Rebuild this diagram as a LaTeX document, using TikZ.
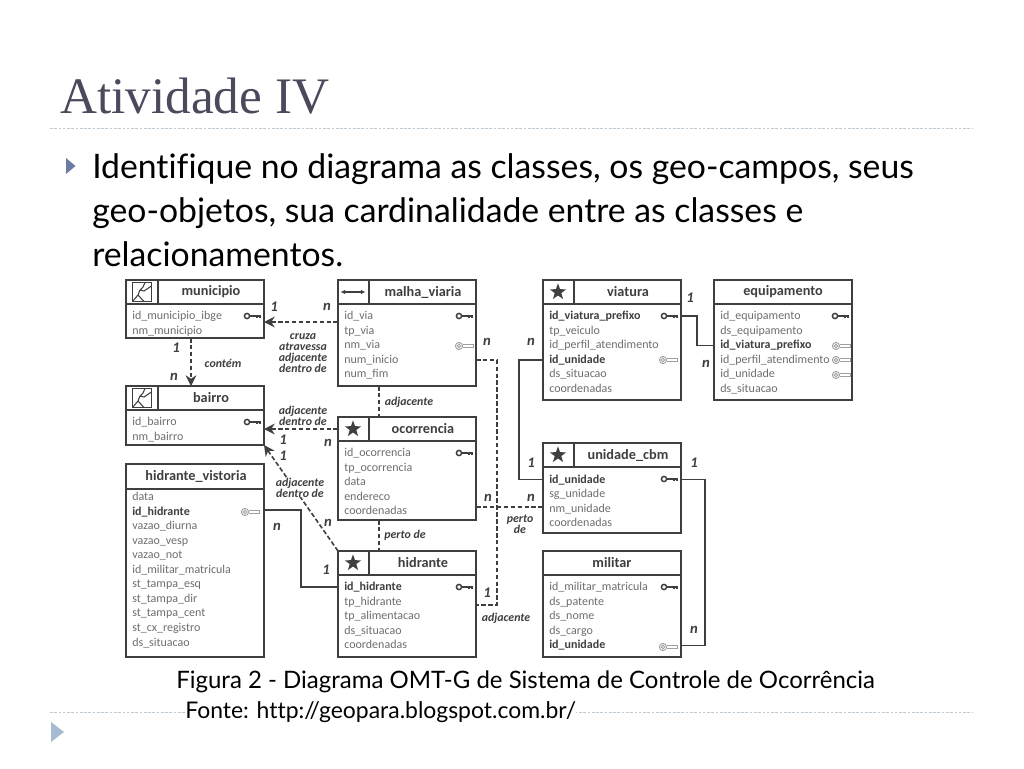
\documentclass[tikz,border=0pt]{standalone}
\usepackage{fontspec}
\setmainfont[Ligatures=NoCommon]{Lato}
\newfontfamily\diagfont{Carlito}
\newfontfamily\headfont{Liberation Serif}
\usetikzlibrary{arrows.meta,fit,shapes.geometric}
\definecolor{omtInk}{HTML}{3F3F3F}
\definecolor{omtRow}{HTML}{6E6E6E}
\definecolor{omtKey}{HTML}{A0A0A0}
\definecolor{slTitle}{HTML}{4A4A5C}
\definecolor{slRule}{HTML}{BCC8D2}
\definecolor{slMark}{HTML}{6C7BA6}
\definecolor{slMarkB}{HTML}{A6BBD2}
\tikzset{
  cbox/.style    ={draw=omtInk,line width=1.2pt,inner sep=0pt,outer sep=0pt,fill=white},
  cline/.style   ={draw=omtInk,line width=1.2pt},
  ctitle/.style  ={font=\diagfont\fontsize{10.7}{12}\selectfont\bfseries,text=omtInk,inner sep=0pt},
  attr/.style    ={font=\diagfont\fontsize{9}{10}\selectfont,text=omtRow,inner sep=0pt},
  attrb/.style   ={font=\diagfont\fontsize{9}{10}\selectfont\bfseries,text=omtInk,inner sep=0pt},
  rel/.style     ={omtInk,line width=1.2pt},
  reldash/.style ={rel,dash pattern=on 3.4pt off 1.8pt},
  reltip/.style  ={reldash,-{Stealth[length=8pt,width=8pt]}},
  lbl/.style     ={font=\diagfont\fontsize{8.9}{8.3}\selectfont\bfseries\itshape,text=omtInk,
                   align=center,inner sep=0pt},
  card/.style    ={font=\diagfont\fontsize{11}{12}\selectfont\bfseries\itshape,text=omtInk,inner sep=0pt},
  starbox/.style ={star,star points=5,star point ratio=2.5,fill=omtInk,inner sep=0pt,minimum size=13pt},
  slrule/.style  ={slRule,line width=0.7pt,dash pattern=on 2pt off 1.2pt},
  bodytxt/.style ={font=\fontsize{25.3}{28}\selectfont,text=black,anchor=base west,inner sep=0pt},
  captxt/.style  ={text=black,anchor=base west,inner sep=0pt},
  pkey/.pic      ={\draw[omtInk,line width=1.1pt] (-6,0) circle (2.6);
                   \draw[omtInk,line width=1.5pt] (-3.4,0) -- (8,0);
                   \draw[omtInk,line width=1pt] (4,0) -- (4,2.2) (7,0) -- (7,2.2);},
  fkey/.pic      ={\draw[omtKey,line width=0.7pt] (-6,0) circle (3.6) (-6,0) circle (1.8);
                   \draw[omtKey,line width=0.7pt] (-2.4,-1.4) -- (8,-1.4) -- (8,1.6) -- (-2.4,1.6);},
  geoarea/.pic   ={\draw[omtInk,line width=0.8pt] (-9.5,-9.5) rectangle (9.5,9.5);
                   \draw[omtInk,line width=0.8pt] (3,-9.5) -- (1,-5) -- (-2,-2) -- (-4,3) -- (-9.5,9.5)
                     (-4,3) -- (2,9.5) (-2,-2) -- (2,-1) -- (9.5,-6);},
  geoline/.pic   ={\draw[{Latex[length=3.5pt,width=3.5pt]}-{Latex[length=3.5pt,width=3.5pt]},omtInk,
                     line width=0.8pt] (-12.5,0) -- (12.5,0);},
}
\newcommand{\classbox}[8]{%
  \node[cbox,fit={(#2,#3) (#4,#5)}] (#1) {};
  \draw[cline] (#1.west |- 0,#6) -- (#1.east |- 0,#6);
  \node[ctitle] (#1T) at (#7,{(#3+#6)/2}) {#8};
}
\newcommand{\classrows}[4]{%
  \foreach \t/\s [count=\i] in {#4}
    { \node[\s,anchor=base west] (#1\i) at (#2,{#3+3.5+(\i-1)*14.55}) {\t}; }
}
\begin{document}
\begin{tikzpicture}[x=0.75pt,y=-0.75pt]
\useasboundingbox (0,0) rectangle (1024,768);
\fill[white] (0,0) rectangle (1024,768);

% slide frame
\node[font=\headfont\fontsize{38.4}{40}\selectfont,text=slTitle,anchor=base west,inner sep=0pt] (slidehead) at (60,113) {Atividade IV};
\draw[slrule] (50,128) -- (972,128);
\draw[slrule] (50,712) -- (972,712);
\fill[slMark] (66,158) -- (75.5,166) -- (66,174) -- cycle;
\fill[slMarkB] (51,722) -- (64,732) -- (51,742) -- cycle;
\foreach \y/\n/\t in {178/bodyA/{Identifique no diagrama as classes, os geo-campos, seus},
                      222/bodyB/{geo-objetos, sua cardinalidade entre as classes e},
                      266/bodyC/{relacionamentos.}}
  { \node[bodytxt] (\n) at (92,\y) {\t}; }

% classes
\classbox{municipio}{126}{280}{264}{338}{304}{211}{municipio}
\classbox{bairro}{126}{386}{264}{445}{410}{211}{bairro}
\classbox{malha}{338}{280}{476}{386}{304}{423}{malha\_viaria}
\classbox{ocorrencia}{338}{417}{476}{520}{441}{423}{ocorrencia}
\classbox{vistoria}{126}{464}{264}{657}{489}{196}{hidrante\_vistoria}
\classbox{hidrante}{338}{551}{476}{657}{575}{423}{hidrante}
\classbox{viatura}{543}{280}{681}{400}{304}{628}{viatura}
\classbox{equipamento}{714}{280}{852}{400}{304}{783}{equipamento}
\classbox{unidade}{543}{443}{681}{533}{467}{628}{unidade\_cbm}
\classbox{militar}{543}{551}{681}{657}{575}{612}{militar}
\foreach \x/\a/\b in {158/280/304, 158/386/410, 369/280/304, 369/417/441, 369/551/575, 574/280/304, 574/443/467}
  { \draw[cline] (\x,\a) -- (\x,\b); }

\classrows{municipio}{132}{316}{id\_municipio\_ibge/attr, nm\_municipio/attr}
\classrows{bairro}{132}{422}{id\_bairro/attr, nm\_bairro/attr}
\classrows{malha}{344}{316}{id\_via/attr, tp\_via/attr, nm\_via/attr, num\_inicio/attr, num\_fim/attr}
\classrows{ocorrencia}{344}{453}{id\_ocorrencia/attr, tp\_ocorrencia/attr, data/attr, endereco/attr, coordenadas/attr}
\classrows{vistoria}{132}{497}{data/attr, id\_hidrante/attrb, vazao\_diurna/attr, vazao\_vesp/attr, vazao\_not/attr,
  id\_militar\_matricula/attr, st\_tampa\_esq/attr, st\_tampa\_dir/attr, st\_tampa\_cent/attr, st\_cx\_registro/attr, ds\_situacao/attr}
\classrows{hidrante}{344}{587}{id\_hidrante/attrb, tp\_hidrante/attr, tp\_alimentacao/attr, ds\_situacao/attr, coordenadas/attr}
\classrows{viatura}{549}{316}{id\_viatura\_prefixo/attrb, tp\_veiculo/attr, id\_perfil\_atendimento/attr, id\_unidade/attrb, ds\_situacao/attr, coordenadas/attr}
\classrows{equipamento}{720}{316}{id\_equipamento/attr, ds\_equipamento/attr, id\_viatura\_prefixo/attrb, id\_perfil\_atendimento/attr, id\_unidade/attr, ds\_situacao/attr}
\classrows{unidade}{549}{479.5}{id\_unidade/attrb, sg\_unidade/attr, nm\_unidade/attr, coordenadas/attr}
\classrows{militar}{549}{587}{id\_militar\_matricula/attr, ds\_patente/attr, ds\_nome/attr, ds\_cargo/attr, id\_unidade/attrb}

% icons and keys
\pic at (142,292) {geoarea};
\pic at (142,398) {geoarea};
\pic at (353,292) {geoline};
\foreach \x/\y/\n in {353/429/ocorrencia, 353/563/hidrante, 558/292/viatura, 558/455/unidade}
  { \node[starbox] (\n S) at (\x,\y) {}; }
\foreach \x/\y in {253/316, 253/422, 465/316, 465/453, 465/587, 670/316, 841/316, 670/479, 670/587}
  { \pic at (\x,\y) {pkey}; }
\foreach \x/\y in {465/346, 251/512, 669/360, 842/346, 842/360, 842/375, 669/647}
  { \pic at (\x,\y) {fkey}; }

% relationships
\coordinate (jMunA) at (300,322);
\coordinate (jMunB) at (191,360);
\coordinate (jBai) at (300,429);
\coordinate (jAdj) at (379,400);
\coordinate (jPer) at (379,535);
\coordinate (jEast) at (497,605);
\coordinate (jCbm) at (510,507);
\coordinate (jVis) at (301,510);
\coordinate (jVia) at (519,420);
\coordinate (jEqu) at (697,330);
\coordinate (jMil) at (705,560);
\draw[reltip] (malha.west |- jMunA) -- (municipio.east |- jMunA);
\draw[reltip] (municipio.south -| jMunB) -- (bairro.north -| jMunB);
\draw[reltip] (ocorrencia.west |- jBai) -- (bairro.east |- jBai);
\draw[reltip] (hidrante.north west) -- (bairro.south east);
\draw[reldash] (malha.south -| jAdj) -- (ocorrencia.north -| jAdj);
\draw[reldash] (ocorrencia.south -| jPer) -- (hidrante.north -| jPer);
\draw[reldash] (malha.east |- malha4) -- (jEast |- malha4) -- (jEast) -- (hidrante.east |- jEast);
\draw[reldash] (ocorrencia.east |- jCbm) -- (unidade.west |- jCbm);
\draw[rel] (vistoria.east |- jVis) -- (jVis) -- (jVis |- hidrante1) -- (hidrante.west |- hidrante1);
\draw[rel] (viatura.west |- viatura4) -- (jVia |- viatura4) -- (jVia |- unidade1) -- (unidade.west |- unidade1);
\draw[rel] (viatura.east |- viatura1) -- (jEqu |- viatura1) -- (jEqu |- equipamento3) -- (equipamento.west |- equipamento3);
\draw[rel] (unidade.east |- unidade1) -- (jMil |- unidade1) -- (jMil |- militar5) -- (militar.east |- militar5);

% labels
\node[lbl,fill=white] (lDiag) at (300,487.5) {adjacente\\dentro de};
\node[lbl] (lCruza) at (303,353) {cruza\\atravessa\\adjacente\\dentro de};
\node[lbl] (lContem) at (223,363) {contém};
\node[lbl] (lBairro) at (303,415.5) {adjacente\\dentro de};
\node[lbl] (lAdjA) at (409,402) {adjacente};
\node[lbl] (lPerA) at (405,535) {perto de};
\node[lbl] (lPerB) at (520,524.5) {perto\\de};
\node[lbl] (lAdjB) at (506,618) {adjacente};
\foreach \x/\y/\c [count=\i] in {274/307/1, 327/307/n, 176/348/1, 174/377/n, 283/440/1, 283/456/1, 328/443/n,
    328/523/n, 277/527/n, 326/570/1, 487/342/n, 487/593/1, 488/498/n, 531/498/n,
    531/342/n, 531/463/1, 690/298/1, 706/364/n, 694/463/1, 694/630/n}
  { \node[card] (card\i) at (\x,\y) {\c}; }

% caption
\node[captxt,font=\fontsize{18}{20}\selectfont] (capA) at (176,688.5) {Figura 2 - Diagrama OMT-G de Sistema de Controle de Ocorrência};
\node[captxt,font=\fontsize{17.2}{20}\selectfont,fill=white,inner ysep=1pt] (capB) at (185,718) {Fonte: http://geopara.blogspot.com.br/};
\end{tikzpicture}
\end{document}
